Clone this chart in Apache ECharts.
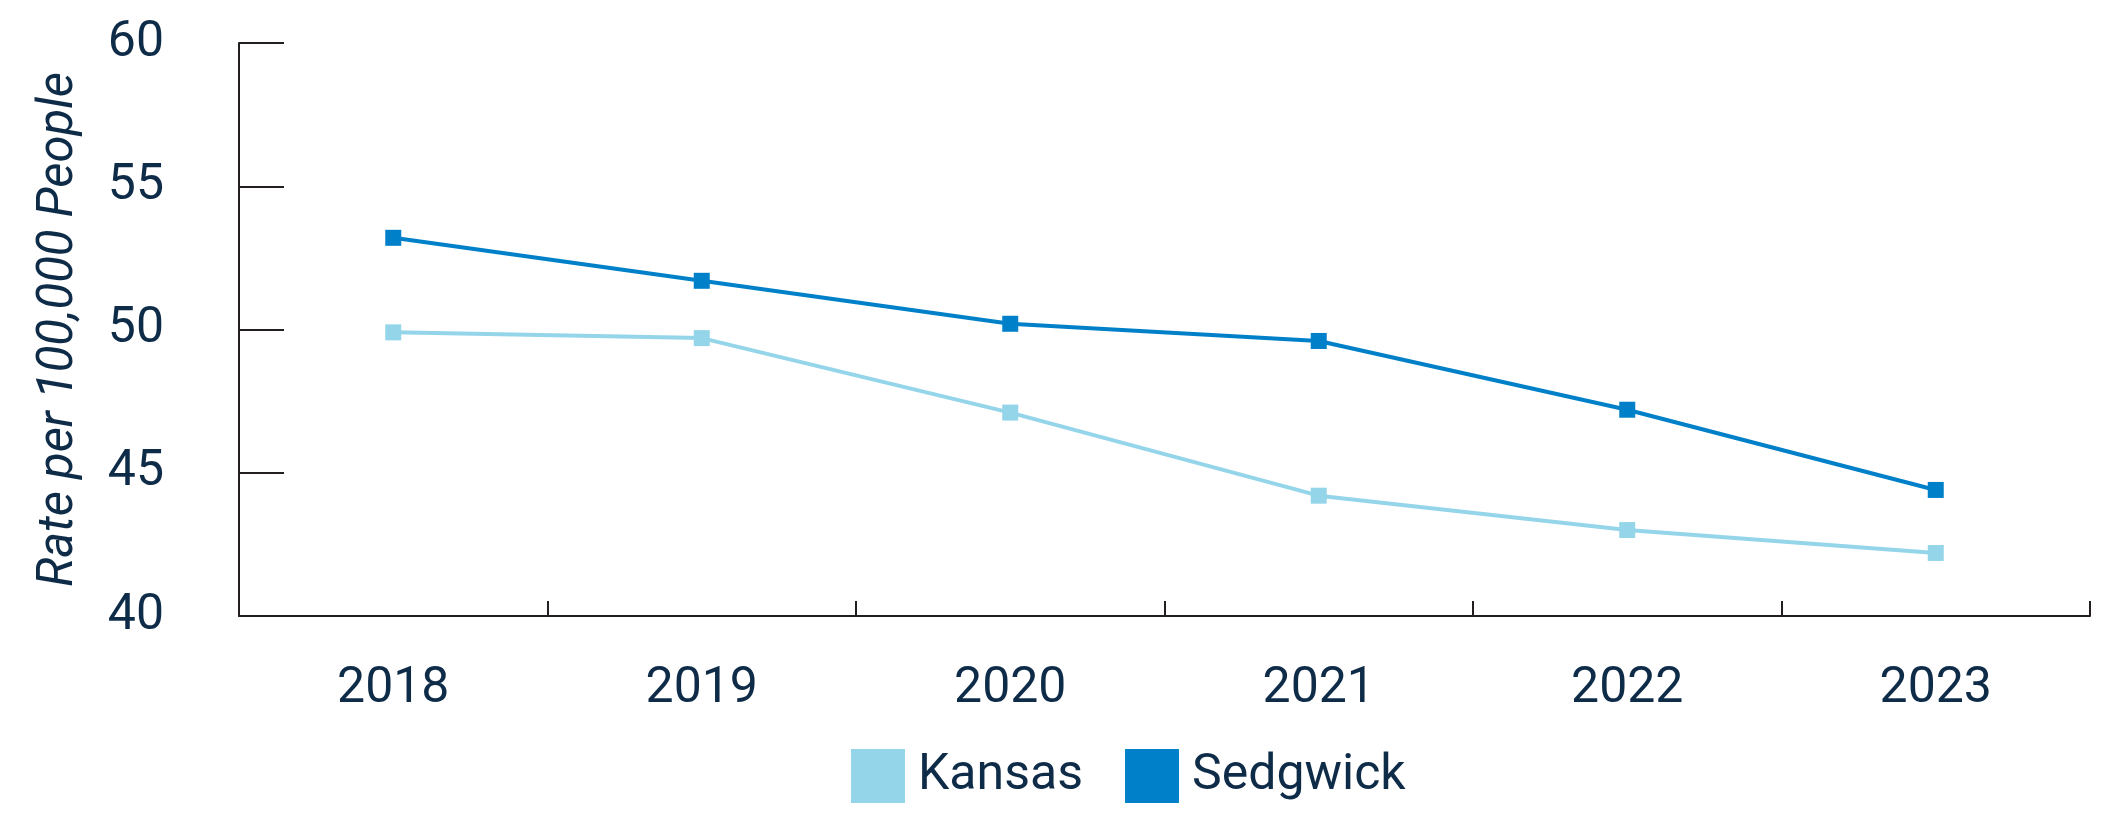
<!DOCTYPE html>
<html>
<head>
<meta charset="utf-8">
<script src="https://cdn.jsdelivr.net/npm/echarts@6/dist/echarts.min.js"></script>
<style>html,body{margin:0;padding:0;background:#fff}#c{width:2110px;height:830px}</style>
</head>
<body>
<div id="c"></div>
<script>
const years = ['2018', '2019', '2020', '2021', '2022', '2023'];
const kansas = [49.9, 49.7, 47.1, 44.2, 43.0, 42.2];
const sedgwick = [53.2, 51.7, 50.2, 49.6, 47.2, 44.4];
const yTicks = { min: 40, max: 60, interval: 5 };
const yTitle = 'Rate per 100,000 People';

const navy = '#0e2b48';
const font = 'Roboto';
const chart = echarts.init(document.getElementById('c'), null, { renderer: 'canvas' });
chart.setOption({
  animation: false,
  grid: { left: 239, right: 20, top: 43, bottom: 214, containLabel: false },
  legend: {
    left: 846, top: 744,
    itemWidth: 54, itemHeight: 54, itemGap: 42,
    icon: 'rect',
    textStyle: { fontFamily: font, fontSize: 50, color: navy, padding: [0, 0, 0, 8] },
    data: ['Kansas', 'Sedgwick']
  },
  xAxis: {
    type: 'category', data: years, boundaryGap: true,
    axisLine: { lineStyle: { color: '#231f20', width: 2 } },
    axisTick: { show: true, interval: 0, inside: true, length: 15, lineStyle: { color: '#231f20', width: 2 } },
    axisLabel: { fontFamily: font, fontSize: 50, color: navy, margin: 48, interval: 0 }
  },
  yAxis: {
    type: 'value', min: yTicks.min, max: yTicks.max, interval: yTicks.interval,
    name: yTitle, nameLocation: 'middle', nameGap: 155,
    nameTextStyle: { fontFamily: font, fontStyle: 'italic', fontSize: 49, color: navy },
    axisLine: { show: true, lineStyle: { color: '#231f20', width: 2 } },
    axisTick: { show: true, inside: true, length: 45, lineStyle: { color: '#231f20', width: 2 } },
    axisLabel: { fontFamily: font, fontSize: 50, color: navy, margin: 75 },
    splitLine: { show: false }
  },
  series: [
    {
      name: 'Kansas', type: 'line', data: kansas,
      symbol: 'rect', symbolSize: 16,
      lineStyle: { color: '#94d5ea', width: 4 },
      itemStyle: { color: '#94d5ea' }
    },
    {
      name: 'Sedgwick', type: 'line', data: sedgwick,
      symbol: 'rect', symbolSize: 16,
      lineStyle: { color: '#0080c8', width: 4 },
      itemStyle: { color: '#0080c8' }
    }
  ]
});
</script>
</body>
</html>
